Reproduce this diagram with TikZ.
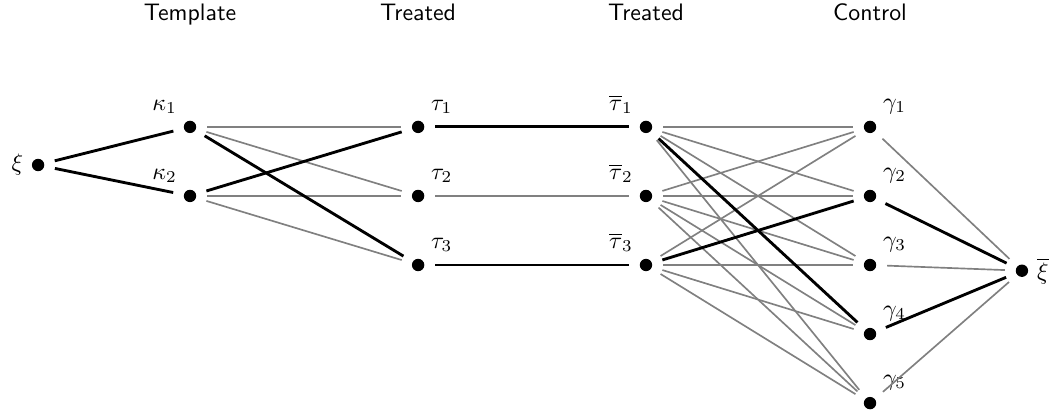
\documentclass[tikz,border=0pt]{standalone}
\usepackage{amsmath}
\definecolor{edgegray}{RGB}{128,128,128}
\usetikzlibrary{positioning,chains}

\begin{document}
\begin{tikzpicture}[
        vertex/.style={circle,fill=black,inner sep=0pt,minimum size=5.2pt},
        header/.style={font=\sffamily,anchor=base},
        used/.style={line width=1.2pt,black},
        unused/.style={line width=0.7pt,edgegray},
        shorten >= 4.4pt,shorten <= 4.4pt
        ]
        \useasboundingbox (0,0) rectangle (445.6pt,-173.5pt);

        % the column titles
        \node[header] (h1) at (79.8pt,-8.8pt) {Template};
        \node[header] (h2) at (175.6pt,-8.8pt) {Treated};
        \node[header] (h3) at (271.3pt,-8.8pt) {Treated};
        \node[header] (h4) at (365.4pt,-8.8pt) {Control};

        % source and sink
        \node[vertex,label=left:$\xi$] (xi) at (16pt,-69.3pt) {};
        \node[vertex,label=right:$\overline{\xi}$] (xib) at (429.2pt,-113.7pt) {};

        % the template vertices
        \begin{scope}[xshift=79.8pt,yshift=-53.3pt,start chain=going below,node distance=23.4pt]
        \node[vertex,on chain] (k1) [label=above left:$\kappa_1$] {};
        \node[vertex,on chain] (k2) [label=above left:$\kappa_2$] {};
        \end{scope}

        % the treated vertices
        \begin{scope}[xshift=175.6pt,yshift=-53.3pt,start chain=going below,node distance=23.4pt]
        \node[vertex,on chain] (t1) [label=above right:$\tau_1$] {};
        \node[vertex,on chain] (t2) [label=above right:$\tau_2$] {};
        \node[vertex,on chain] (t3) [label=above right:$\tau_3$] {};
        \end{scope}

        % the treated copies
        \begin{scope}[xshift=271.3pt,yshift=-53.3pt,start chain=going below,node distance=23.4pt]
        \node[vertex,on chain] (tb1) [label=above left:$\overline{\tau}_1$] {};
        \node[vertex,on chain] (tb2) [label=above left:$\overline{\tau}_2$] {};
        \node[vertex,on chain] (tb3) [label=above left:$\overline{\tau}_3$] {};
        \end{scope}

        % the control vertices
        \begin{scope}[xshift=365.4pt,yshift=-53.3pt,start chain=going below,node distance=23.4pt]
        \node[vertex,on chain] (g1) [label=above right:$\gamma_1$] {};
        \node[vertex,on chain] (g2) [label=above right:$\gamma_2$] {};
        \node[vertex,on chain] (g3) [label=above right:$\gamma_3$] {};
        \node[vertex,on chain] (g4) [label=above right:$\gamma_4$] {};
        \node[vertex,on chain] (g5) [label=above right:$\gamma_5$] {};
        \end{scope}

        % the unused edges
        \draw[unused] (k1) -- (t1);
        \draw[unused] (k1) -- (t2);
        \draw[unused] (k2) -- (t2);
        \draw[unused] (k2) -- (t3);
        \draw[unused] (t2) -- (tb2);
        \draw[unused] (tb1) -- (g1);
        \draw[unused] (tb1) -- (g2);
        \draw[unused] (tb1) -- (g3);
        \draw[unused] (tb1) -- (g5);
        \draw[unused] (tb2) -- (g1);
        \draw[unused] (tb2) -- (g2);
        \draw[unused] (tb2) -- (g3);
        \draw[unused] (tb2) -- (g4);
        \draw[unused] (tb2) -- (g5);
        \draw[unused] (tb3) -- (g1);
        \draw[unused] (tb3) -- (g3);
        \draw[unused] (tb3) -- (g4);
        \draw[unused] (tb3) -- (g5);
        \draw[unused] (g1) -- (xib);
        \draw[unused] (g3) -- (xib);
        \draw[unused] (g5) -- (xib);

        % the chosen edges
        \draw[used] (xi) -- (k1);
        \draw[used] (xi) -- (k2);
        \draw[used] (k1) -- (t3);
        \draw[used] (k2) -- (t1);
        \draw[used] (t1) -- (tb1);
        \draw[used] (t3) -- (tb3);
        \draw[used] (tb1) -- (g4);
        \draw[used] (tb3) -- (g2);
        \draw[used] (g2) -- (xib);
        \draw[used] (g4) -- (xib);
\end{tikzpicture}
\end{document}
